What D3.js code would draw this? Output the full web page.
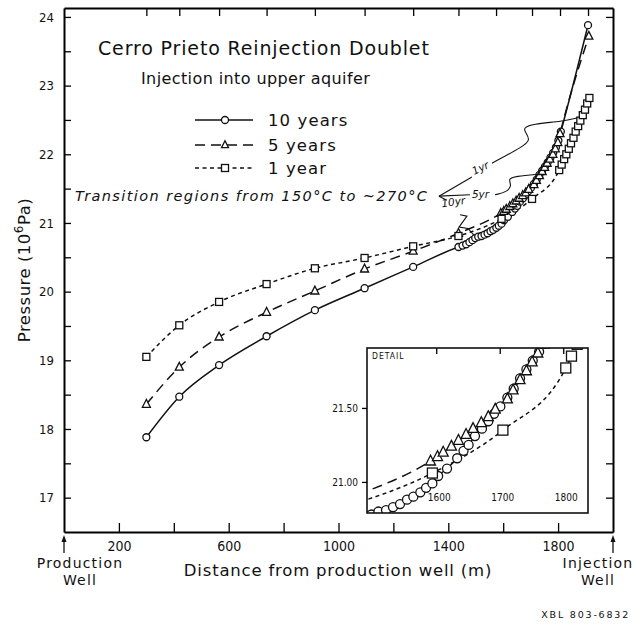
<!DOCTYPE html>
<html>
<head>
<meta charset="utf-8">
<script src="https://cdn.jsdelivr.net/npm/d3@7"></script>
<style>
  body { margin: 0; background: #fff; }
  svg text { fill: #111; }
</style>
</head>
<body>
<div id="chart"></div>
<script>
// --- data (distance m, pressure 10^6 Pa) ---
var x10 = [300, 420, 565, 738, 914, 1095, 1272, 1437, 1452, 1465, 1477, 1488, 1498, 1509, 1521, 1532, 1543, 1554, 1564, 1575, 1584, 1594, 1603, 1617, 1633, 1643, 1651, 1661, 1672, 1682, 1691, 1701, 1712, 1722, 1732, 1742, 1752, 1762, 1772, 1782, 1792, 1801, 1810, 1909];
var p10 = [17.88, 18.47, 18.93, 19.35, 19.73, 20.05, 20.36, 20.65, 20.67, 20.69, 20.72, 20.75, 20.78, 20.80, 20.81, 20.83, 20.85, 20.88, 20.90, 20.93, 20.96, 20.99, 21.04, 21.09, 21.16, 21.21, 21.25, 21.31, 21.36, 21.41, 21.46, 21.51, 21.57, 21.63, 21.70, 21.76, 21.82, 21.88, 21.95, 22.02, 22.10, 22.20, 22.33, 23.88];

var x5 = [300, 420, 565, 738, 914, 1095, 1272, 1437, 1591, 1602, 1611, 1624, 1635, 1647, 1658, 1671, 1682, 1693, 1712, 1721, 1732, 1742, 1751, 1760, 1770, 1781, 1790, 1799, 1807, 1912];
var p5 = [18.36, 18.90, 19.34, 19.70, 20.01, 20.33, 20.59, 20.85, 21.14, 21.17, 21.20, 21.24, 21.28, 21.32, 21.36, 21.40, 21.44, 21.49, 21.56, 21.62, 21.69, 21.75, 21.81, 21.87, 21.93, 22.00, 22.08, 22.17, 22.30, 23.72];

var x1 = [300, 420, 565, 738, 914, 1095, 1272, 1437, 1594, 1705, 1804, 1813, 1822, 1830, 1839, 1847, 1856, 1864, 1873, 1881, 1890, 1898, 1906, 1914];
var p1 = [19.05, 19.51, 19.85, 20.11, 20.34, 20.49, 20.66, 20.81, 21.06, 21.35, 21.77, 21.85, 21.93, 22.00, 22.08, 22.16, 22.24, 22.33, 22.41, 22.49, 22.57, 22.65, 22.74, 22.82];

var seriesNames = ["10 years", "5 years", "1 year"];
var meshNodes = [300, 420, 565, 738, 914, 1095, 1272, 1437, 1574, 1705, 1807, 1909];
var xTicks = [200, 400, 600, 800, 1000, 1200, 1400, 1600, 1800];
var xLabels = [200, 600, 1000, 1400, 1800];
var yTicks = [17, 17.5, 18, 18.5, 19, 19.5, 20, 20.5, 21, 21.5, 22, 22.5, 23, 23.5, 24];
var detailXTicks = [1600, 1700, 1800];
var detailYTicks = [21.00, 21.50];

// annotation anchors (data units)
var bracketTip = [1366, 21.39];
var bracketArms = [[1486, 21.67], [1479, 21.41], [1395, 21.33]];
var lead1yr = [[1559, 21.87], [1676, 22.12], [1698, 22.21], [1683, 22.31], [1672, 22.38], [1705, 22.44], [1818, 22.48], [1869, 22.53]];
var lead5yr = [[1570, 21.41], [1614, 21.45], [1632, 21.55], [1617, 21.64], [1643, 21.68], [1734, 21.71]];
var lead10yr = [[1443, 21.12], [1468, 21.10], [1439, 20.94], [1472, 20.92], [1494, 20.82]];

var W = 634, H = 624;
var svg = d3.select("#chart").append("svg").attr("width", W).attr("height", H);

var x = d3.scaleLinear().domain([0, 2000]).range([64, 613]);
var y = d3.scaleLinear().domain([16.5, 24.13]).range([532, 8]);

// inset scales
var xi = d3.scaleLinear().domain([1491, 1839]).range([367, 588]);
var yi = d3.scaleLinear().domain([20.79, 21.905]).range([513, 348]);

var series = [
  { name: seriesNames[0], xs: x10, ys: p10, dash: null, mark: "circle" },
  { name: seriesNames[1], xs: x5, ys: p5, dash: "10,6", mark: "triangle" },
  { name: seriesNames[2], xs: x1, ys: p1, dash: "4,3.5", mark: "square" }
];

function drawMark(g, type, cx, cy, s) {
  if (type == "circle") {
    g.append("circle").attr("cx", cx).attr("cy", cy).attr("r", s / 2)
      .attr("fill", "#fff").attr("stroke", "#111").attr("stroke-width", 1.3);
  } else if (type == "square") {
    g.append("rect").attr("x", cx - s / 2).attr("y", cy - s / 2).attr("width", s).attr("height", s)
      .attr("fill", "#fff").attr("stroke", "#111").attr("stroke-width", 1.3);
  } else {
    g.append("path")
      .attr("d", "M" + cx + "," + (cy - s * 0.6) + "L" + (cx - s / 2) + "," + (cy + s * 0.38) + "L" + (cx + s / 2) + "," + (cy + s * 0.38) + "Z")
      .attr("fill", "#fff").attr("stroke", "#111").attr("stroke-width", 1.3);
  }
}

function drawSeries(g, sx, sy, sizes) {
  series.forEach(function(s) {
    var pts = s.xs.map(function(d, i) { return [d, s.ys[i]]; });
    g.append("path")
      .datum(pts)
      .attr("fill", "none")
      .attr("stroke", "#111")
      .attr("stroke-width", 1.5)
      .attr("stroke-dasharray", s.dash)
      .attr("d", d3.line().curve(d3.curveMonotoneX)
        .x(function(d) { return sx(d[0]); })
        .y(function(d) { return sy(d[1]); }));
  });
  series.forEach(function(s) {
    s.xs.forEach(function(d, i) {
      drawMark(g, s.mark, sx(d), sy(s.ys[i]), sizes[s.mark]);
    });
  });
}

// main curves
var main = svg.append("g");
drawSeries(main, x, y, { circle: 7, triangle: 8, square: 7 });

// axes
var tickFont = "'DejaVu Sans Condensed', 'DejaVu Sans', sans-serif";

var yAxis = svg.append("g").attr("transform", "translate(64,0)")
  .call(d3.axisLeft(y).tickValues(yTicks).tickSize(-7).tickSizeOuter(0).tickPadding(10)
    .tickFormat(function(d) { return d % 1 === 0 ? d : ""; }));
yAxis.selectAll("text").style("font-family", tickFont).style("font-size", "13px");

svg.append("g").attr("transform", "translate(613,0)")
  .call(d3.axisRight(y).tickValues(yTicks).tickSize(-7).tickSizeOuter(0).tickFormat(""));

var xAxis = svg.append("g").attr("transform", "translate(0,532)")
  .call(d3.axisBottom(x).tickValues(xTicks).tickSize(-9).tickSizeOuter(0).tickPadding(9)
    .tickFormat(function(d) { return xLabels.indexOf(d) >= 0 ? d : ""; }));
xAxis.selectAll("text").style("font-family", tickFont).style("font-size", "14px");

svg.append("g").attr("transform", "translate(0,8)")
  .call(d3.axisTop(x).tickValues(meshNodes).tickSize(-8).tickSizeOuter(0).tickFormat(""));

svg.selectAll(".domain").attr("stroke-width", 2);
svg.selectAll(".tick line").attr("stroke-width", 1.3);

// inset (detail)
var inset = svg.append("g");
inset.append("rect").attr("x", 367).attr("y", 348).attr("width", 221).attr("height", 165)
  .attr("fill", "#fff");
svg.append("clipPath").attr("id", "clipDetail")
  .append("rect").attr("x", 367).attr("y", 348).attr("width", 221).attr("height", 165);
var insetPlot = inset.append("g").attr("clip-path", "url(#clipDetail)");
drawSeries(insetPlot, xi, yi, { circle: 9, triangle: 10, square: 10 });
inset.append("rect").attr("x", 367).attr("y", 348).attr("width", 221).attr("height", 165)
  .attr("fill", "none").attr("stroke", "#111").attr("stroke-width", 1.6);

var iy = inset.append("g").attr("transform", "translate(367,0)")
  .call(d3.axisLeft(yi).tickValues(detailYTicks).tickSize(5).tickPadding(4).tickFormat(d3.format(".2f")));
iy.select(".domain").remove();
iy.selectAll("text").style("font-family", tickFont).style("font-size", "10px");

var ix = inset.append("g").attr("transform", "translate(0,348)")
  .call(d3.axisTop(xi).tickValues(detailXTicks).tickSize(-6).tickFormat(""));
ix.select(".domain").remove();

inset.selectAll(".tick line").attr("stroke-width", 1.3);

inset.selectAll(".dlab").data(detailXTicks).enter().append("text")
  .attr("x", function(d) { return xi(d) + 3; })
  .attr("y", 501)
  .attr("text-anchor", "middle")
  .style("font-family", tickFont).style("font-size", "10px")
  .text(function(d) { return d; });

inset.append("text").attr("x", 372).attr("y", 359)
  .style("font-family", tickFont).style("font-size", "8.5px").style("letter-spacing", "1px")
  .text("DETAIL");

// titles
var labFont = "'DejaVu Sans', sans-serif";
svg.append("text").attr("x", 98).attr("y", 55)
  .style("font-family", labFont).style("font-size", "19px").style("letter-spacing", "0.85px")
  .text("Cerro Prieto Reinjection Doublet");
svg.append("text").attr("x", 141).attr("y", 84)
  .style("font-family", labFont).style("font-size", "16px").style("letter-spacing", "0.4px")
  .text("Injection into upper aquifer");

// legend
var legY = [120, 145, 168];
series.forEach(function(s, i) {
  svg.append("line").attr("x1", 195).attr("x2", 253).attr("y1", legY[i]).attr("y2", legY[i])
    .attr("stroke", "#111").attr("stroke-width", 1.6).attr("stroke-dasharray", s.dash);
  drawMark(svg, s.mark, 225, legY[i], 7);
  svg.append("text").attr("x", 268).attr("y", legY[i] + 6)
    .style("font-family", labFont).style("font-size", "16.5px").style("letter-spacing", "1.1px")
    .text(s.name);
});

svg.append("text").attr("x", 75).attr("y", 201)
  .style("font-family", labFont).style("font-style", "italic").style("font-size", "14.5px")
  .style("letter-spacing", "1.4px")
  .text("Transition regions from 150°C to ~270°C");

// transition annotations
var ln = d3.line().x(function(d) { return x(d[0]); }).y(function(d) { return y(d[1]); });
bracketArms.forEach(function(a) {
  svg.append("path").attr("d", ln([bracketTip, a])).attr("fill", "none")
    .attr("stroke", "#111").attr("stroke-width", 1.1);
});
svg.append("path").attr("d", ln.curve(d3.curveBasis)(lead1yr)).attr("fill", "none")
  .attr("stroke", "#111").attr("stroke-width", 1.1);
svg.append("path").attr("d", ln.curve(d3.curveBasis)(lead5yr)).attr("fill", "none")
  .attr("stroke", "#111").attr("stroke-width", 1.1);
svg.append("path").attr("d", ln.curve(d3.curveLinear)(lead10yr)).attr("fill", "none")
  .attr("stroke", "#111").attr("stroke-width", 1.1);

var annFont = { "font-family": labFont, "font-style": "italic", "font-size": "10.5px" };
function annText(t, pos, rot) {
  var e = svg.append("text")
    .attr("transform", "translate(" + x(pos[0]) + "," + y(pos[1]) + ") rotate(" + rot + ")")
    .text(t);
  for (var k in annFont) e.style(k, annFont[k]);
}
annText("1yr", [1494, 21.70], -25);
annText("5yr", [1486, 21.36], 0);
annText("10yr", [1377, 21.23], -8);

// axis titles
var yt = svg.append("text").attr("transform", "translate(30,270) rotate(-90)")
  .attr("text-anchor", "middle")
  .style("font-family", labFont).style("font-size", "16.5px").style("letter-spacing", "0.5px");
yt.append("tspan").text("Pressure (10");
yt.append("tspan").attr("dy", -7).style("font-size", "12px").text("6");
yt.append("tspan").attr("dy", 7).text("Pa)");

svg.append("text").attr("x", 338).attr("y", 576).attr("text-anchor", "middle")
  .style("font-family", labFont).style("font-size", "16.5px").style("letter-spacing", "0.8px")
  .text("Distance from production well (m)");

// well arrows
[0, 2000].forEach(function(d) {
  svg.append("line").attr("x1", x(d)).attr("x2", x(d)).attr("y1", 553).attr("y2", 539)
    .attr("stroke", "#111").attr("stroke-width", 1.3);
  svg.append("path").attr("d", "M" + (x(d) - 2.5) + ",542L" + x(d) + ",535L" + (x(d) + 2.5) + ",542Z")
    .attr("fill", "#111");
});
var wellLabels = [["Production", "Well", 80], ["Injection", "Well", 598]];
wellLabels.forEach(function(w) {
  svg.append("text").attr("x", w[2]).attr("y", 568).attr("text-anchor", "middle")
    .style("font-family", labFont).style("font-size", "14px").style("letter-spacing", "1.2px").text(w[0]);
  svg.append("text").attr("x", w[2]).attr("y", 585).attr("text-anchor", "middle")
    .style("font-family", labFont).style("font-size", "14px").style("letter-spacing", "1.2px").text(w[1]);
});

svg.append("text").attr("x", 630).attr("y", 618).attr("text-anchor", "end")
  .style("font-family", labFont).style("font-size", "9.5px").style("letter-spacing", "1.8px")
  .text("XBL 803-6832");
</script>
</body>
</html>
